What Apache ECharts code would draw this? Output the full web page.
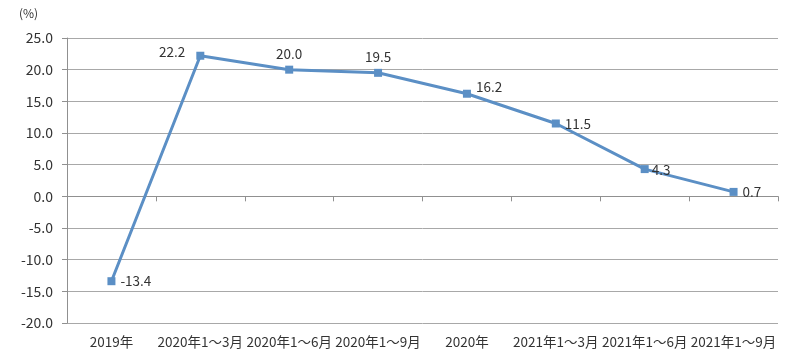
<!DOCTYPE html>
<html><head><meta charset="utf-8">
<script src="https://cdn.jsdelivr.net/npm/echarts@6/dist/echarts.min.js"></script>
<style>html,body{margin:0;padding:0;background:#fff}#c{width:804px;height:363px}</style>
</head><body><div id="c"></div>
<script>
const categories = ['2019年','2020年1～3月','2020年1～6月','2020年1～9月','2020年','2021年1～3月','2021年1～6月','2021年1～9月'];
const values = [-13.4, 22.2, 20.0, 19.5, 16.2, 11.5, 4.3, 0.7];
const labelPositions = ['right','left','top','top','right','right','right','right'];
const labelOffsets = [[0,0],[-6,-4],[0,0],[0,0],[0,-7],[0,0],[-2,1],[0,0]];
const yTicks = {min:-20, max:25, interval:5};
const unitLabel = '(%)';

const font = '"Microsoft YaHei","Noto Sans CJK SC","Noto Sans",sans-serif';
const chart = echarts.init(document.getElementById('c'));
chart.setOption({
  animation:false,
  grid:{left:67, right:26, top:38, bottom:40},
  graphic:[{type:'text', left:19, top:7, style:{text:unitLabel, font:'12px '+font, fill:'#333'}}],
  xAxis:[
    {type:'category', data:categories, boundaryGap:true,
     axisLine:{onZero:true, lineStyle:{color:'#909090', width:1}},
     axisTick:{show:true, interval:0, alignWithLabel:false, length:5, inside:false, lineStyle:{color:'#909090'}},
     axisLabel:{show:false}},
    {type:'category', data:categories, position:'bottom', boundaryGap:true,
     axisLine:{show:false, onZero:false}, axisTick:{show:false},
     axisLabel:{color:'#333', fontSize:13.5, fontFamily:font, margin:12, interval:0}}
  ],
  yAxis:{type:'value', min:yTicks.min, max:yTicks.max, interval:yTicks.interval,
    axisLine:{show:true, lineStyle:{color:'#909090'}},
    axisTick:{show:true, length:5, lineStyle:{color:'#909090'}},
    splitLine:{lineStyle:{color:'#a8a8a8'}},
    axisLabel:{color:'#333', fontSize:14, fontFamily:font, margin:14, formatter:v=>v.toFixed(1)}},
  series:[{
    type:'line', xAxisIndex:0, symbol:'rect', symbolSize:8,
    lineStyle:{color:'#5b8fc5', width:3},
    itemStyle:{color:'#5b8fc5'},
    data: values.map((v,i)=>({value:v, label:{show:true, position:labelPositions[i], offset:labelOffsets[i],
      formatter:p=>p.value.toFixed(1), color:'#333', fontSize:13.5, fontFamily:font}}))
  }]
});
</script></body></html>
